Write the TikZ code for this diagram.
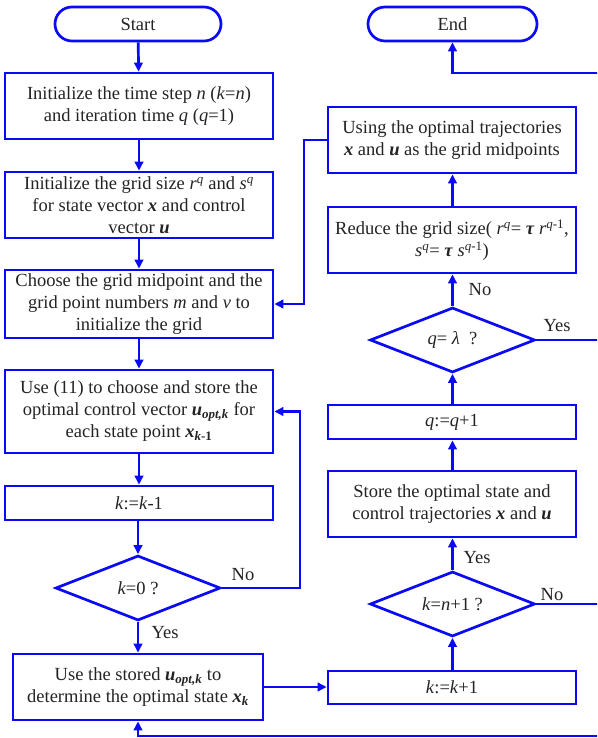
\documentclass[tikz,border=0pt]{standalone}
\usepackage{fontspec}
\setmainfont{Liberation Serif}
\usetikzlibrary{arrows.meta,shapes.geometric}
\definecolor{fblue}{RGB}{10,10,245}
\definecolor{ftext}{RGB}{35,35,35}
\newcommand{\bi}[1]{\textbf{\textit{#1}}}
\newcommand{\iv}[1]{\textit{#1}}
\begin{document}
\begin{tikzpicture}[x=1pt,y=-1pt,
  font=\fontsize{18.5}{22}\selectfont,
  every node/.style={text=ftext},
  box/.style={draw=fblue,line width=2.7pt,rectangle,inner sep=0pt,align=center,minimum width=#1},
  box/.default=268,
  term/.style={draw=fblue,line width=2.7pt,rectangle,rounded corners=17pt,inner sep=0pt,minimum height=34,align=center},
  dia/.style={draw=fblue,line width=2.7pt,diamond,aspect=2.5,inner sep=0pt,minimum width=165,minimum height=65},
  conn/.style={draw=fblue,line width=2.7pt,-{Triangle[length=9pt,width=8.5pt]}},
  lbl/.style={inner sep=0pt}
]
\useasboundingbox (0,0) rectangle (597,738);
\clip (0,0) rectangle (597,738);
% left column
\node[term,minimum width=166] (start) at (138,24) {Start};
\node[box,minimum height=66] (b1) at (139,106) {Initialize the time step \iv{n} (\iv{k}=\iv{n})\\and iteration time \iv{q} (\iv{q}=1)};
\node[box,minimum height=66] (b2) at (139,205) {Initialize the grid size \iv{r}\textsuperscript{\iv{q}} and \iv{s}\textsuperscript{\iv{q}}\\for state vector \bi{x} and control\\vector \bi{u}};
\node[box,minimum height=68] (b3) at (139,304) {Choose the grid midpoint and the\\grid point numbers \iv{m} and \iv{v} to\\initialize the grid};
\node[box,minimum height=83] (b4) at (139,411.5) {Use (11) to choose and store the\\optimal control vector \bi{u}\textsubscript{\bi{opt,k}} for\\each state point \bi{x}\textsubscript{\bi{k}\textbf{-1}}};
\node[box,minimum height=34] (b5) at (139,503) {\iv{k}:=\iv{k}-1};
\node[dia] (d1) at (138,588) {\iv{k}=0 ?};
\node[box=250,minimum height=66] (b6) at (138,687) {Use the stored \bi{u}\textsubscript{\bi{opt,k}} to\\determine the optimal state \bi{x}\textsubscript{\bi{k}}};
% right column
\node[term,minimum width=169] (end) at (452.5,24) {End};
\node[box=248,minimum height=66] (r1) at (452,140) {Using the optimal trajectories\\\bi{x} and \bi{u} as the grid midpoints};
\node[box=248,minimum height=66] (r2) at (452,240) {Reduce the grid size( \iv{r}\textsuperscript{\iv{q}}= \bi{τ} \iv{r}\textsuperscript{\iv{q}-1},\\\iv{s}\textsuperscript{\iv{q}}= \bi{τ} \iv{s}\textsuperscript{\iv{q}-1})};
\node[dia] (d2) at (452.5,340) {\iv{q}= \iv{λ}~~?};
\node[box=248,minimum height=34] (r3) at (452,422) {\iv{q}:=\iv{q}+1};
\node[box=248,minimum height=66] (r4) at (452,504) {Store the optimal state and\\control trajectories \bi{x} and \bi{u}};
\node[dia] (d3) at (452.5,604) {\iv{k}=\iv{n}+1 ?};
\node[box=248,minimum height=33] (r5) at (452,687.5) {\iv{k}:=\iv{k}+1};
% labels
\node[lbl] (lno1) at (243,575) {No};
\node[lbl] (lyes1) at (165,633) {Yes};
\node[lbl] (lno2) at (480,290) {No};
\node[lbl] (lyes2) at (557,326) {Yes};
\node[lbl] (lyes3) at (477,558) {Yes};
\node[lbl] (lno3) at (552,595) {No};
% helper coordinates
\coordinate (c1) at (300,588);
\coordinate (c2) at (300,411.5);
\coordinate (c3) at (304,140);
\coordinate (c4) at (304,304);
\coordinate (c5) at (612,340);
\coordinate (c6) at (612,73);
\coordinate (c7) at (452.5,73);
\coordinate (c8) at (612,604);
\coordinate (c9) at (612,736);
\coordinate (c10) at (138,736);
% connectors
\draw[conn] (start) -- (b1);
\draw[conn] (b1) -- (b2);
\draw[conn] (b2.south -| b1) -- (b3.north -| b1);
\draw[conn] (b3) -- (b4);
\draw[conn] (b4) -- (b5);
\draw[conn] (b5.south -| d1) -- (d1.north);
\draw[conn] (d1) -- (b6);
\draw[conn] (d1.east) -- (c1) -- (c2) -- (b4.east);
\draw[conn] (r1.west |- c3) -- (c3) -- (c4) -- (b3.east);
\draw[conn] (b6.east) -- (r5.west |- b6.east);
\draw[conn] (r5.north -| d3) -- (d3.south);
\draw[conn] (d3) -- (r4.south -| d3);
\draw[conn] (r4.north -| d3) -- (r3.south -| d3);
\draw[conn] (r3.north -| d2) -- (d2.south);
\draw[conn] (d2) -- (r2.south -| d2);
\draw[conn] (r2.north -| d2) -- (r1.south -| d2);
\draw[conn] (d2.east) -- (c5) -- (c6) -- (c7) -- (end.south);
\draw[conn] (d3.east) -- (c8) -- (c9) -- (c10) -- (b6.south);
\end{tikzpicture}
\end{document}
